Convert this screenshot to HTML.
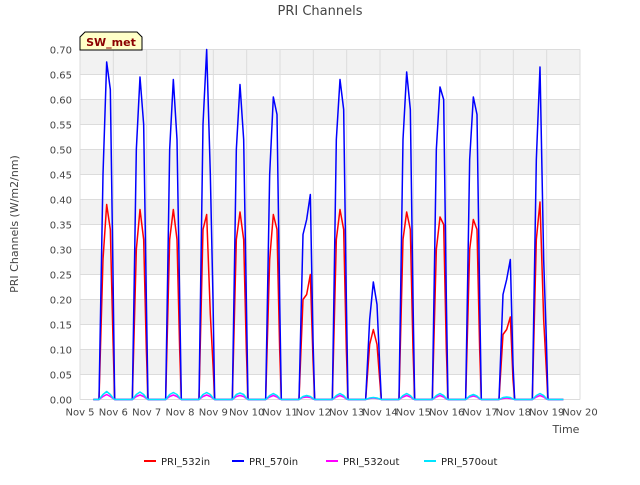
<!DOCTYPE html>
<html><head><meta charset="utf-8"><style>
body{margin:0;background:#fff;font-family:"Liberation Sans","DejaVu Sans",sans-serif;}
svg text{font-family:"DejaVu Sans","Liberation Sans",sans-serif;}
</style></head><body>
<svg id="chart" width="640" height="480" xmlns="http://www.w3.org/2000/svg">
<rect width="640" height="480" fill="#fff"/>
<text x="320" y="15" text-anchor="middle" font-size="13" fill="#444">PRI Channels</text>
<g id="bands"></g><g id="grid"></g><g id="series"></g><g id="axes"></g>
<text transform="translate(18,224) rotate(-90)" text-anchor="middle" font-size="11" fill="#444">PRI Channels (W/m2/nm)</text>
<text x="566" y="433" text-anchor="middle" font-size="11" fill="#444">Time</text>
<g>
<path d="M80,50 L80,37 L85,32 L137,32 L142,37 L142,50 Z" fill="#ffffc8" stroke="#000" stroke-width="1"/>
<text x="111" y="46" text-anchor="middle" font-size="11" font-weight="bold" fill="#8b0000">SW_met</text>
</g>
<g id="legend"></g>
</svg>
<script>
const yTicks=[0,0.05,0.1,0.15,0.2,0.25,0.3,0.35,0.4,0.45,0.5,0.55,0.6,0.65,0.7];
const xTickLabels=["Nov 5","Nov 6","Nov 7","Nov 8","Nov 9","Nov 10","Nov 11","Nov 12","Nov 13","Nov 14","Nov 15","Nov 16","Nov 17","Nov 18","Nov 19","Nov 20"];
const dayStarts=[0,1,2,3,4,5,6,7,8,9,10,11,12,13];
const offsets=[0.57,0.69,0.8,0.91,0.99,1.04];
const in570=[[0,0.45,0.675,0.62,0.25,0],[0,0.50,0.645,0.55,0.2,0],[0,0.50,0.64,0.52,0.2,0],[0,0.55,0.70,0.45,0.2,0],[0,0.50,0.63,0.52,0.2,0],[0,0.45,0.605,0.57,0.2,0],[0,0.33,0.36,0.41,0.12,0],[0,0.52,0.64,0.58,0.2,0],[0,0.16,0.235,0.19,0.07,0],[0,0.52,0.655,0.58,0.2,0],[0,0.50,0.625,0.6,0.2,0],[0,0.48,0.605,0.57,0.2,0],[0,0.21,0.24,0.28,0.07,0],[0,0.48,0.665,0.28,0.12,0]];
const in532=[[0,0.28,0.39,0.34,0.12,0],[0,0.3,0.38,0.32,0.1,0],[0,0.32,0.38,0.32,0.1,0],[0,0.34,0.37,0.17,0.07,0],[0,0.32,0.375,0.32,0.1,0],[0,0.28,0.37,0.34,0.1,0],[0,0.20,0.21,0.25,0.08,0],[0,0.32,0.38,0.34,0.1,0],[0,0.11,0.14,0.11,0.04,0],[0,0.32,0.375,0.34,0.1,0],[0,0.3,0.365,0.35,0.1,0],[0,0.3,0.36,0.34,0.1,0],[0,0.13,0.14,0.165,0.04,0],[0,0.32,0.395,0.16,0.06,0]];
const out570=[[0,0.01,0.016,0.01,0.003,0],[0,0.01,0.015,0.01,0.003,0],[0,0.01,0.014,0.01,0.003,0],[0,0.01,0.014,0.01,0.003,0],[0,0.01,0.013,0.01,0.003,0],[0,0.008,0.012,0.008,0.002,0],[0,0.006,0.008,0.006,0.002,0],[0,0.008,0.012,0.008,0.002,0],[0,0.003,0.004,0.003,0.001,0],[0,0.008,0.012,0.008,0.002,0],[0,0.008,0.012,0.008,0.002,0],[0,0.007,0.01,0.007,0.002,0],[0,0.004,0.005,0.004,0.001,0],[0,0.008,0.012,0.008,0.002,0]];
const out532=[[0,0.006,0.01,0.006,0.002,0],[0,0.006,0.009,0.006,0.002,0],[0,0.006,0.009,0.006,0.002,0],[0,0.006,0.009,0.006,0.002,0],[0,0.006,0.008,0.006,0.002,0],[0,0.005,0.008,0.005,0.001,0],[0,0.004,0.005,0.004,0.001,0],[0,0.005,0.008,0.005,0.001,0],[0,0.002,0.003,0.002,0.001,0],[0,0.005,0.008,0.005,0.001,0],[0,0.005,0.008,0.005,0.001,0],[0,0.005,0.007,0.005,0.001,0],[0,0.002,0.003,0.002,0.001,0],[0,0.005,0.008,0.005,0.001,0]];
const NS="http://www.w3.org/2000/svg";
const L=80,R=580,T=49.5,B=399.5;
const xS=d=>L+(R-L)*d/15, yS=v=>B-(B-T)*v/0.7;
function mk(tag,attrs,parent){const e=document.createElementNS(NS,tag);for(const k in attrs)e.setAttribute(k,attrs[k]);parent.appendChild(e);return e;}
const bands=document.getElementById('bands'),grid=document.getElementById('grid'),axes=document.getElementById('axes'),ser=document.getElementById('series'),leg=document.getElementById('legend');
for(let i=0;i<yTicks.length-1;i++){
  if(i%2===1){const r=mk('rect',{x:L,y:yS(yTicks[i+1]),width:R-L,height:yS(yTicks[i])-yS(yTicks[i+1]),fill:'#f2f2f2'},bands);
  
  }
}
yTicks.forEach(v=>{
  const g=mk('line',{x1:L,x2:R,y1:yS(v),y2:yS(v),stroke:'#dcdcdc','stroke-width':1},grid);
  
  
  const t=mk('text',{x:L-8,y:yS(v)+4,'text-anchor':'end','font-size':10,fill:'#444'},axes);t.textContent=v.toFixed(2);
  
  
});
xTickLabels.forEach((s,i)=>{
  const g=mk('line',{x1:xS(i),x2:xS(i),y1:T,y2:B,stroke:'#dcdcdc','stroke-width':1},grid);
  
  
  const t=mk('text',{x:xS(i),y:B+16,'text-anchor':'middle','font-size':10,fill:'#444'},axes);t.textContent=s;
  
  
});
function drawSeries(vals,color,name){
  let pts=[[xS(0.4),yS(0)]];
  dayStarts.forEach((d,i)=>offsets.forEach((o,j)=>pts.push([xS(d+o),yS(vals[i][j])])));
  pts.push([xS(14.5),yS(0)]);
  const p=mk('polyline',{points:pts.map(p=>p.join(',')).join(' '),fill:'none',stroke:color,'stroke-width':1.5,'stroke-linejoin':'round'},ser);
  
  
}
drawSeries(in532,'#ff0000','series-pri-532in');
drawSeries(in570,'#0000ff','series-pri-570in');
drawSeries(out532,'#ff00ff','series-pri-532out');
drawSeries(out570,'#00e5ff','series-pri-570out');
const legItems=[["PRI_532in","#ff0000",144],["PRI_570in","#0000ff",232],["PRI_532out","#ff00ff",326],["PRI_570out","#00e5ff",424]];
legItems.forEach(([s,c,x])=>{
  const g=mk('g',{},leg);
  
  
  mk('line',{x1:x,x2:x+12,y1:461,y2:461,stroke:c,'stroke-width':2},g);
  const t=mk('text',{x:x+17,y:465,'font-size':10,fill:'#222'},g);t.textContent=s;
});
</script>
</body></html>
